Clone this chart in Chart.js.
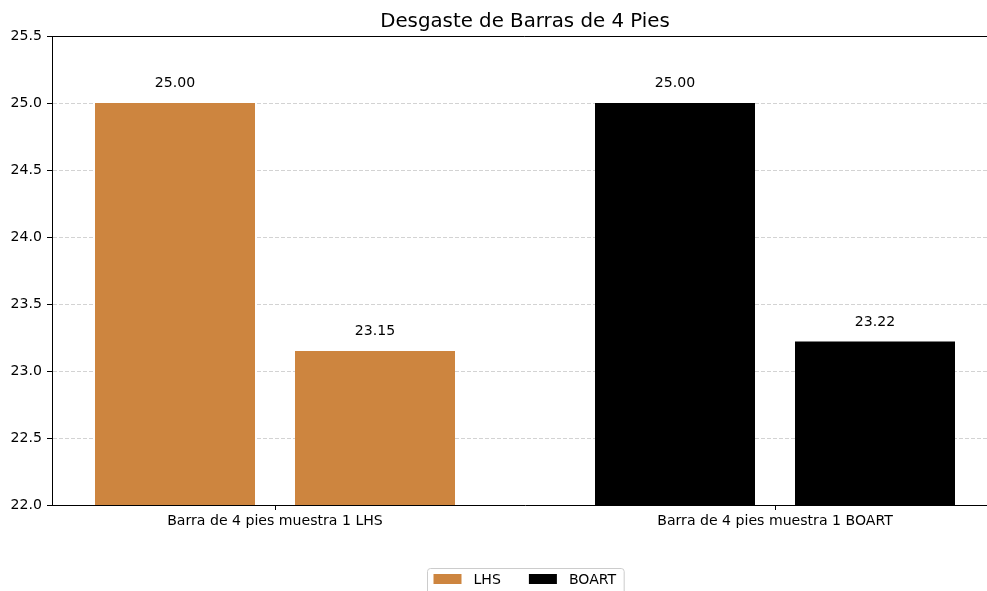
<!DOCTYPE html>
<html>
<head>
<meta charset="utf-8">
<script src="https://cdn.jsdelivr.net/npm/chart.js@4.4.0/dist/chart.umd.min.js"></script>
<style>
  html, body { margin: 0; padding: 0; background: #fff; overflow: hidden; }
  #wrap { width: 1000px; height: 600px; }
</style>
</head>
<body>
<div id="wrap"><canvas id="chart" width="1000" height="600"></canvas></div>
<script>
const chartTitle = "Desgaste de Barras de 4 Pies";
const categories = ["Barra de 4 pies muestra 1 LHS", "Barra de 4 pies muestra 1 BOART"];
const categoryPositions = [0.5, 3.0];
const seriesNames = ["LHS", "BOART"];
const seriesColors = ["#cd853f", "#000000"];
const lhsPositions = [0, 1];
const lhsValues = [25.00, 23.15];
const boartPositions = [2.5, 3.5];
const boartValues = [25.00, 23.22];
const yMin = 22.0;
const yMax = 25.5;
const yStep = 0.5;

const FONT = "'DejaVu Sans', sans-serif";
Chart.defaults.font.family = FONT;
Chart.defaults.font.size = 14.1;
Chart.defaults.color = "#000";

function points(xs, ys) {
  return xs.map((x, i) => ({ x, y: ys[i] }));
}

const extras = {
  id: "extras",
  afterDatasetsDraw(chart) {
    const { ctx } = chart;
    ctx.save();
    ctx.fillStyle = "#000";
    ctx.font = `14.1px ${FONT}`;
    ctx.textAlign = "center";
    ctx.textBaseline = "alphabetic";
    chart.data.datasets.forEach((ds, i) => {
      chart.getDatasetMeta(i).data.forEach((bar, j) => {
        ctx.fillText(ds.data[j].y.toFixed(2), bar.x, bar.y - 16);
      });
    });
    ctx.restore();
  },
  afterDraw(chart) {
    const { ctx, chartArea: a } = chart;
    ctx.save();

    // top and right spines
    ctx.strokeStyle = "#000";
    ctx.lineWidth = 1;
    ctx.beginPath();
    ctx.moveTo(a.left, a.top + 0.5);
    ctx.lineTo(a.right - 0.5, a.top + 0.5);
    ctx.lineTo(a.right - 0.5, a.bottom);
    ctx.stroke();

    // title
    const cx = (a.left + a.right) / 2;
    ctx.fillStyle = "#000";
    ctx.font = `19.8px ${FONT}`;
    ctx.textAlign = "center";
    ctx.textBaseline = "alphabetic";
    ctx.fillText(chartTitle, cx, 27);

    // legend below the axes
    ctx.font = `14.1px ${FONT}`;
    ctx.textAlign = "left";
    const pad = 6, patchW = 28, patchH = 10, gap = 12, colGap = 28;
    const widths = chart.data.datasets.map((ds) => ctx.measureText(ds.label).width);
    let total = pad * 2 + 2;
    widths.forEach((w, i) => {
      total += patchW + gap + w + (i < widths.length - 1 ? colGap : 0);
    });
    const boxL = Math.round(cx - total / 2) + 0.5;
    const boxT = 568.5;
    const boxH = 30;
    ctx.beginPath();
    ctx.roundRect(boxL, boxT, total, boxH, 3);
    ctx.fillStyle = "rgba(255,255,255,0.8)";
    ctx.fill();
    ctx.strokeStyle = "#cccccc";
    ctx.stroke();
    let x = boxL + pad;
    chart.data.datasets.forEach((ds, i) => {
      ctx.fillStyle = ds.backgroundColor;
      ctx.fillRect(x, 574, patchW, patchH);
      x += patchW + gap;
      ctx.fillStyle = "#000";
      ctx.fillText(ds.label, x, 584);
      x += widths[i] + colGap;
    });

    ctx.restore();
  }
};

new Chart(document.getElementById("chart"), {
  type: "bar",
  data: {
    datasets: [
      {
        label: seriesNames[0],
        data: points(lhsPositions, lhsValues),
        backgroundColor: seriesColors[0],
        grouped: false,
        categoryPercentage: 1,
        barPercentage: 0.8
      },
      {
        label: seriesNames[1],
        data: points(boartPositions, boartValues),
        backgroundColor: seriesColors[1],
        grouped: false,
        categoryPercentage: 1,
        barPercentage: 0.8
      }
    ]
  },
  options: {
    responsive: false,
    animation: false,
    layout: { padding: { top: 36, right: 2, left: 0, bottom: 0 } },
    plugins: {
      legend: { display: false },
      title: { display: false },
      tooltip: { enabled: false }
    },
    scales: {
      x: {
        type: "linear",
        min: -0.615,
        max: 4.115,
        offset: false,
        afterBuildTicks: (scale) => {
          scale.ticks = categoryPositions.map((v) => ({ value: v }));
        },
        afterFit: (scale) => { scale.height = 95; },
        ticks: {
          padding: 3,
          maxRotation: 0,
          autoSkip: false,
          callback: (v) => categories[categoryPositions.indexOf(v)] ?? ""
        },
        grid: {
          offset: false,
          drawOnChartArea: false,
          drawTicks: true,
          tickLength: 5,
          tickColor: "#000"
        },
        border: { display: true, color: "#000", width: 1 }
      },
      y: {
        min: yMin,
        max: yMax,
        afterFit: (scale) => { scale.width = 52; },
        ticks: {
          stepSize: yStep,
          padding: 5,
          callback: (v) => Number(v).toFixed(1)
        },
        grid: {
          color: "#d3d3d3",
          tickColor: "#000",
          tickLength: 5,
          drawTicks: true
        },
        border: { display: true, color: "#000", width: 1, dash: [4, 2] }
      }
    }
  },
  plugins: [extras]
});
</script>
</body>
</html>
